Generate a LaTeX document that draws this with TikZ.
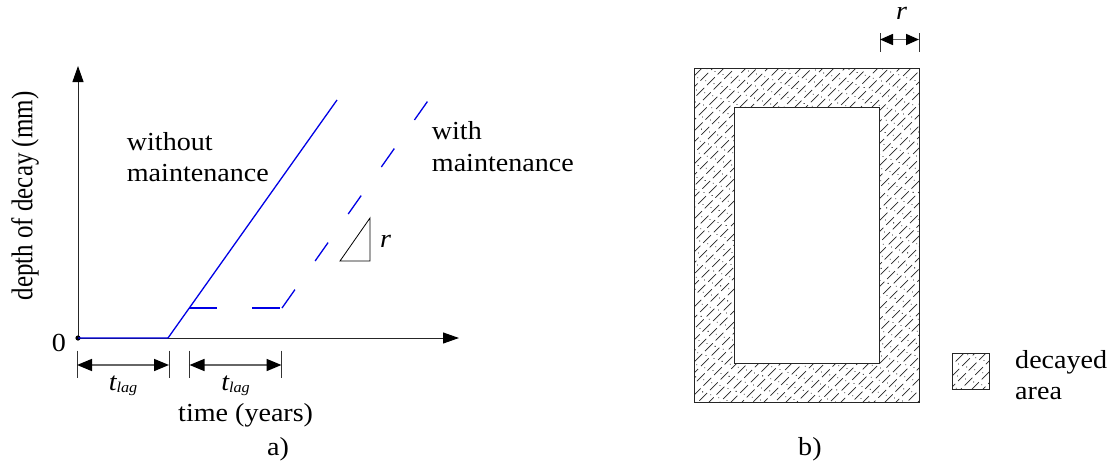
\documentclass[tikz,border=0pt]{standalone}
\usepackage{fontspec}
\setmainfont{Liberation Serif}
\usepackage{graphicx}
\usetikzlibrary{arrows.meta}
\newcommand\hs[1]{\scalebox{1.08}[1]{#1}}
\tikzset{
 lbl/.style={inner sep=0pt, font=\fontsize{26}{30}\selectfont},
 axisline/.style={line width=1pt, draw=black!85, -{Triangle[length=16pt,width=11pt,color=black]}},
 dimline/.style={line width=1.6pt, draw=black!60, {Triangle[length=15pt,width=12pt,color=black]}-{Triangle[length=15pt,width=12pt,color=black]}},
 ticks/.style={line width=0.8pt, draw=black!80},
 curve/.style={line width=1.3pt, draw=blue!90!black},
 hcurve/.style={curve, dash pattern=on 28pt off 35pt},
 dcurve/.style={curve, dash pattern=on 22.5pt off 35pt},
 hatch/.style={line width=0.7pt, draw=black!85, dash pattern=on 11pt off 4pt},
 hatchdots/.style={line width=1.1pt, draw=black, dash pattern=on 0.01pt off 13pt, line cap=round},
 frame/.style={line width=1pt, draw=black!85},
}
\begin{document}
\begin{tikzpicture}[x=1pt,y=-1pt]
\useasboundingbox (0,0) rectangle (1115,466);
% ---------- a) ----------
\coordinate (O) at (78,338);
\coordinate (Ytop) at (78,66);
\coordinate (Xend) at (459,338);
\draw[axisline] (O) -- (Ytop);
\draw[axisline] (O) -- (Xend);
\fill (O) circle (2.6);
\coordinate (L1) at (168,338);
\coordinate (T1) at (337,100);
\draw[curve] (O) -- (L1) -- (T1);
\coordinate (H0) at (189.3,308);
\coordinate (H1) at (282,308);
\coordinate (T2) at (428.5,100);
\draw[hcurve] (H0) -- (H1);
\draw[dcurve] (H1) -- (T2);
% slope triangle
\coordinate (R1) at (340,261);
\coordinate (R2) at (370,218);
\coordinate (R3) at (370,261);
\draw[line width=0.8pt] (R1) -- (R2) -- (R3) -- cycle;
\node[lbl, anchor=base west] (rlab) at (380,247) {\hs{\itshape r}};
% texts
\node[lbl, anchor=base west] (wo1) at (126.7,150.7) {\hs{without}};
\node[lbl, anchor=base west] (wo2) at (126.7,181.7) {\hs{maintenance}};
\node[lbl, anchor=base west] (w1) at (431.7,139.3) {\hs{with}};
\node[lbl, anchor=base west] (w2) at (431.7,171.7) {\hs{maintenance}};
\node[lbl, anchor=base east] (zero) at (66,351) {\hs{0}};
\node[lbl, rotate=90, font=\fontsize{25}{29}\selectfont] (ylab) at (25,196) {\scalebox{1}[1.2]{depth of decay (mm)}};
% t_lag dimensions
\coordinate (A1) at (77,350.7);  \coordinate (A1b) at (77,378.3);
\coordinate (A2) at (169,350.7); \coordinate (A2b) at (169,378.3);
\coordinate (B1) at (189.5,350.7); \coordinate (B1b) at (189.5,378.3);
\coordinate (B2) at (281.5,350.7); \coordinate (B2b) at (281.5,378.3);
\draw[ticks] (A1) -- (A1b); \draw[ticks] (A2) -- (A2b);
\draw[ticks] (B1) -- (B1b); \draw[ticks] (B2) -- (B2b);
\coordinate (A1m) at (77,365); \coordinate (A2m) at (169,365);
\coordinate (B1m) at (189.5,365); \coordinate (B2m) at (281.5,365);
\draw[dimline] (A1m) -- (A2m);
\draw[dimline] (B1m) -- (B2m);
\node[lbl, anchor=base] (tl1) at (123,390) {\hs{\itshape t\raisebox{-2pt}{\fontsize{15}{15}\selectfont lag}}};
\node[lbl, anchor=base] (tl2) at (235.5,390) {\hs{\itshape t\raisebox{-2pt}{\fontsize{15}{15}\selectfont lag}}};
\node[lbl, anchor=base west] (time) at (178,421) {\hs{time (years)}};
\node[lbl, anchor=base west] (alab) at (267,455) {\hs{a)}};
% ---------- b) ----------
\begin{scope}[even odd rule]
 \clip (694,68) rectangle (919,402) (734,107) rectangle (879,363);
 \foreach \k in {0,...,60} {
   \draw[hatch, dash phase={\k*6.3pt}] ({294+\k*11},410) -- ++(400,-400);
   \draw[hatchdots, dash phase={\k*4.1pt}] ({299.5+\k*11},410) -- ++(400,-400);
 }
\end{scope}
\draw[frame] (694,68) rectangle (919,402);
\draw[frame] (734,107) rectangle (879,363);
% r dimension
\coordinate (C1) at (880,33); \coordinate (C1b) at (880,52);
\coordinate (C2) at (919,33); \coordinate (C2b) at (919,52);
\draw[ticks] (C1) -- (C1b); \draw[ticks] (C2) -- (C2b);
\coordinate (C1m) at (880,39.5); \coordinate (C2m) at (919,39.5);
\draw[dimline, {Triangle[length=13pt,width=11pt,color=black]}-{Triangle[length=13pt,width=11pt,color=black]}] (C1m) -- (C2m);
\node[lbl, anchor=base west] (rtop) at (896,19) {\hs{\itshape r}};
% legend
\begin{scope}
 \clip (952,353) rectangle (989,389);
 \foreach \k in {0,...,10} {
   \draw[hatch, dash phase={\k*6.3pt}] ({900+\k*11},395) -- ++(60,-60);
   \draw[hatchdots, dash phase={\k*4.1pt}] ({905.5+\k*11},395) -- ++(60,-60);
 }
\end{scope}
\draw[frame] (952,353) rectangle (989,389);
\node[lbl, anchor=base west] (dec1) at (1015,368) {\hs{decayed}};
\node[lbl, anchor=base west] (dec2) at (1015,399) {\hs{area}};
\node[lbl, anchor=base west] (blab) at (798,455) {\hs{b)}};
\end{tikzpicture}
\end{document}
